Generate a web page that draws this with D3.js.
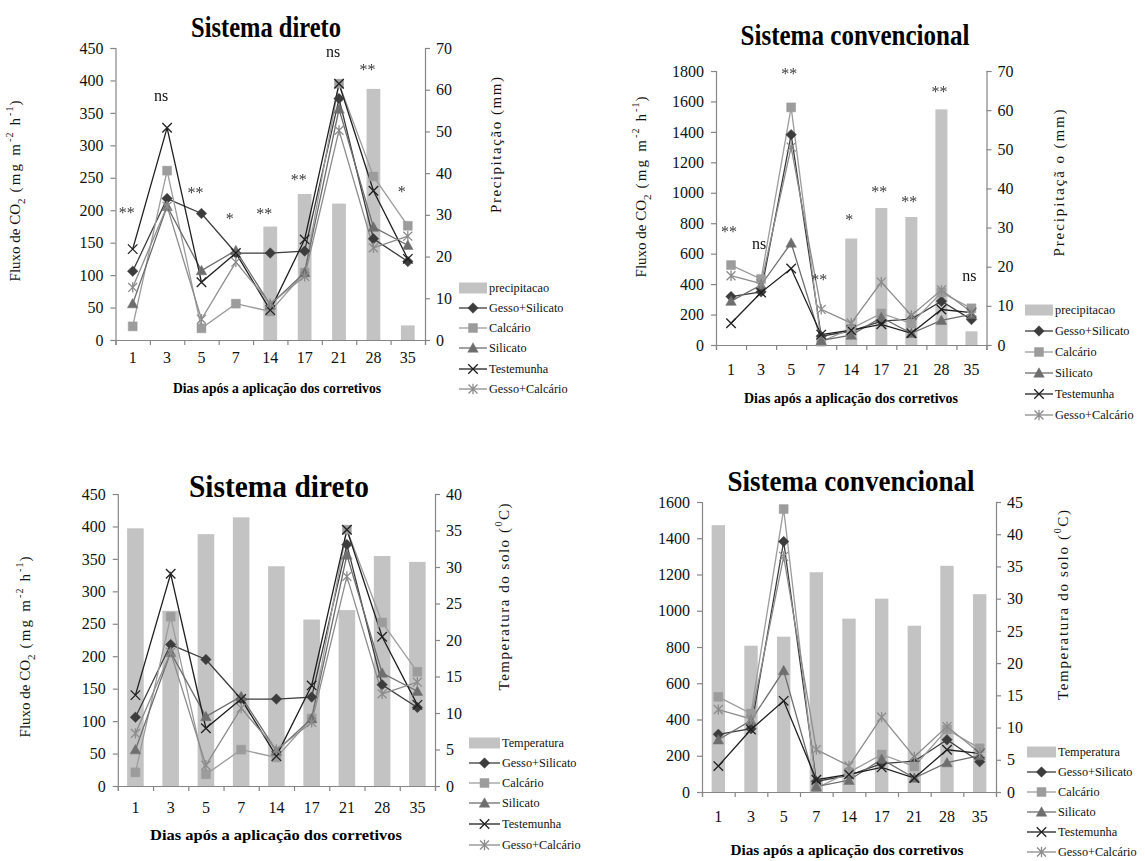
<!DOCTYPE html>
<html>
<head>
<meta charset="utf-8">
<script src="https://cdn.jsdelivr.net/npm/d3@7"></script>
<style>
  body { margin: 0; background: #fff; }
  svg text { font-family: "Liberation Serif", "Times New Roman", serif !important; }
  .sig { filter: grayscale(100%); }
</style>
</head>
<body>
<svg id="chart" width="1145" height="861"></svg>
<script>
// dias após a aplicação dos corretivos
const dias = ['1', '3', '5', '7', '14', '17', '21', '28', '35'];
const seriesNames = ['Gesso+Silicato', 'Calcário', 'Silicato', 'Testemunha', 'Gesso+Calcário'];

// Sistema direto - fluxo de CO2 (mg m-2 h-1)
const diretoGessoSilicato = [106, 218, 195, 134, 134, 137, 372, 156, 121];
const diretoCalcario = [21, 261, 18, 56, 44, 104, 395, 252, 176];
const diretoSilicato = [56, 206, 107, 138, 54, 104, 356, 174, 146];
const diretoTestemunha = [140, 327, 89, 134, 46, 155, 395, 230, 125];
const diretoGessoCalcario = [81, 206, 32, 120, 56, 98, 323, 142, 160];

// Sistema convencional - fluxo de CO2 (mg m-2 h-1)
const convGessoSilicato = [318, 349, 1382, 58, 92, 157, 170, 288, 167];
const convCalcario = [525, 433, 1561, 22, 108, 207, 141, 345, 241];
const convSilicato = [288, 394, 670, 30, 65, 181, 77, 162, 201];
const convTestemunha = [143, 345, 503, 68, 97, 136, 77, 233, 213];
const convGessoCalcario = [455, 403, 1300, 234, 144, 413, 194, 361, 217];

// precipitação (mm) e temperatura do solo (oC)
const precipitacao = [0, 0, 0, 0, 27.2, 35, 32.7, 60.2, 3.5];
const tempDireto = [35.3, 24.0, 34.5, 36.8, 30.1, 22.8, 24.1, 31.5, 30.7];
const tempConv = [41.4, 22.7, 24.1, 34.1, 26.9, 30.0, 25.8, 35.1, 30.7];

// significância
const sigDireto = ['**', 'ns', '**', '*', '**', '**', 'ns', '**', '*'];
const sigDiretoY = [188, 368, 219, 179, 186, 239, 436, 408, 220];
const sigConv = ['**', 'ns', '**', '**', '*', '**', '**', '**', 'ns'];
const sigConvY = [709, 631, 1747, 394, 788, 972, 906, 1629, 420];

const barColor = '#c3c3c3';
const axisColor = '#868686';

// marker shapes (size = (2r)^2)
const symDiamond = { draw(c, s) { const r = Math.sqrt(s) / 2; c.moveTo(0, -r); c.lineTo(r, 0); c.lineTo(0, r); c.lineTo(-r, 0); c.closePath(); } };
const symSquare = { draw(c, s) { const r = Math.sqrt(s) / 2; c.rect(-r, -r, 2 * r, 2 * r); } };
const symTriangle = { draw(c, s) { const r = Math.sqrt(s) / 2; c.moveTo(0, -r); c.lineTo(r, r * 0.8); c.lineTo(-r, r * 0.8); c.closePath(); } };
const symX = { draw(c, s) { const r = Math.sqrt(s) / 2; c.moveTo(-r, -r); c.lineTo(r, r); c.moveTo(-r, r); c.lineTo(r, -r); } };
const symStar = { draw(c, s) { const r = Math.sqrt(s) / 2; c.moveTo(-r, -r); c.lineTo(r, r); c.moveTo(-r, r); c.lineTo(r, -r); c.moveTo(0, -r * 1.15); c.lineTo(0, r * 1.15); } };

const styles = [
  { color: '#3c3c3c', sym: symDiamond, size: 110, fill: true },
  { color: '#9c9c9c', sym: symSquare, size: 80, fill: true },
  { color: '#6e6e6e', sym: symTriangle, size: 110, fill: true },
  { color: '#1f1f1f', sym: symX, size: 90, fill: false },
  { color: '#8c8c8c', sym: symStar, size: 80, fill: false }
];

const svg = d3.select('#chart');

function squeeze(sel, k) {
  sel.each(function () {
    const len = this.getComputedTextLength();
    d3.select(this).attr('textLength', len * k).attr('lengthAdjust', 'spacingAndGlyphs');
  });
}

function rotTitle(g, x, cy, parts, len) {
  const t = g.append('text')
    .attr('transform', `translate(${x},${cy}) rotate(-90)`)
    .attr('text-anchor', 'middle')
    .attr('dominant-baseline', 'central')
    .attr('font-size', 15)
    .attr('fill', '#111');
  parts.forEach(p => {
    const ts = t.append('tspan').text(p[0]);
    if (p[1] === 'sub') ts.attr('baseline-shift', 'sub').attr('font-size', 11);
    if (p[1] === 'sup') ts.attr('baseline-shift', 'super').attr('font-size', 10);
    if (p[2]) ts.attr('letter-spacing', p[2]);
  });
  if (len) t.attr('textLength', len).attr('lengthAdjust', 'spacing');
  return t;
}

const fluxoTitle = [['Fluxo de CO'], ['2', 'sub'], ['  (mg m', null, 2.2], ['-2', 'sup', 1], [' h', null, 2.2], ['-1', 'sup', 1], [')']];

function drawPanel(p) {
  const g = svg.append('g');
  const x = d3.scaleBand().domain(dias).range([p.left, p.right]);
  const xEdge = d3.scaleLinear().domain([0, dias.length]).range([p.left, p.right]);
  const yL = d3.scaleLinear().domain([0, p.leftMax]).range([p.bottom, p.top]);
  const yR = d3.scaleLinear().domain([0, p.rightMax]).range([p.bottom, p.top]);

  // barras (eixo secundário)
  const bw = x.bandwidth() * p.barW;
  g.append('g').selectAll('rect').data(p.bars).join('rect')
    .attr('x', (d, i) => x(dias[i]) + (x.bandwidth() - bw) / 2)
    .attr('width', bw)
    .attr('y', d => yR(d))
    .attr('height', d => yR(0) - yR(d))
    .attr('fill', barColor);

  // eixos
  const axL = g.append('g').attr('transform', `translate(${p.left},0)`)
    .call(d3.axisLeft(yL).tickValues(d3.range(0, p.leftMax + 1, p.leftStep)).tickSize(5).tickPadding(7).tickFormat(d3.format('d')));
  const axR = g.append('g').attr('transform', `translate(${p.right},0)`)
    .call(d3.axisRight(yR).tickValues(d3.range(0, p.rightMax + 1, p.rightStep)).tickSize(5).tickPadding(6).tickFormat(d3.format('d')));
  const axB = g.append('g').attr('transform', `translate(0,${p.bottom})`)
    .call(d3.axisBottom(xEdge).tickValues(d3.range(dias.length + 1)).tickSize(5).tickFormat(''));
  const axBL = g.append('g').attr('transform', `translate(0,${p.bottom})`)
    .call(d3.axisBottom(x).tickSize(0).tickPadding(p.xPad));
  axBL.select('.domain').remove();
  [axL, axR, axB].forEach(a => {
    a.select('.domain').attr('stroke', axisColor).attr('stroke-width', 1.2);
    a.selectAll('.tick line').attr('stroke', axisColor).attr('stroke-width', 1.2);
  });
  [axL, axR, axBL].forEach(a => {
    a.selectAll('text').attr('font-size', p.tickFont).attr('fill', '#111');
  });

  // séries
  p.series.forEach((vals, si) => {
    const st = styles[si];
    const line = d3.line().x((d, i) => x(dias[i]) + x.bandwidth() / 2).y(d => yL(d));
    g.append('path').datum(vals).attr('d', line)
      .attr('fill', 'none').attr('stroke', st.color).attr('stroke-width', 1.3);
  });
  p.series.forEach((vals, si) => {
    const st = styles[si];
    g.append('g').selectAll('path').data(vals).join('path')
      .attr('transform', (d, i) => `translate(${x(dias[i]) + x.bandwidth() / 2},${yL(d)})`)
      .attr('d', d3.symbol().type(st.sym).size(st.size))
      .attr('fill', st.fill ? st.color : 'none')
      .attr('stroke', st.color)
      .attr('stroke-width', st.fill ? 0.5 : 1.3);
  });

  // significância
  if (p.sig) {
    g.append('g').attr('class', 'sig').selectAll('text').data(p.sig).join('text')
      .attr('x', (d, i) => x(dias[i]) + x.bandwidth() / 2 + p.sigDx)
      .attr('y', (d, i) => yL(p.sigY[i]))
      .attr('text-anchor', 'middle')
      .attr('font-size', 16)
      .attr('fill', d => d === 'ns' ? '#111' : '#3a3a3a')
      .text(d => d);
  }

  // título
  g.append('text')
    .attr('x', p.titleX).attr('y', p.titleY)
    .attr('text-anchor', 'middle')
    .attr('font-size', p.titleFont).attr('font-weight', 'bold').attr('fill', '#000')
    .attr('textLength', p.titleLen).attr('lengthAdjust', 'spacingAndGlyphs')
    .text(p.title);

  // título eixo x
  g.append('text')
    .attr('x', p.xTitleX).attr('y', p.xTitleY)
    .attr('text-anchor', 'middle')
    .attr('font-size', 15).attr('font-weight', 'bold').attr('fill', '#000')
    .attr('textLength', p.xTitleLen).attr('lengthAdjust', 'spacingAndGlyphs')
    .text('Dias após a aplicação dos corretivos');

  // títulos eixos y
  if (p.leftTitle) rotTitle(g, p.leftTitle[0], p.leftTitle[1], fluxoTitle, null);
  rotTitle(g, p.rightTitle[0], p.rightTitle[1], p.rightTitleParts, p.rightTitle[2]);

  // legenda
  const lg = g.append('g');
  const names = [p.barName].concat(seriesNames);
  names.forEach((n, i) => {
    const cy = p.legY[i];
    if (i === 0) {
      lg.append('rect').attr('x', p.legX).attr('y', cy - 5.5).attr('width', p.legW).attr('height', 11).attr('fill', barColor);
    } else {
      const st = styles[i - 1];
      lg.append('line').attr('x1', p.legX).attr('x2', p.legX + p.legW).attr('y1', cy).attr('y2', cy)
        .attr('stroke', st.color).attr('stroke-width', 1.3);
      lg.append('path').attr('transform', `translate(${p.legX + p.legW / 2},${cy})`)
        .attr('d', d3.symbol().type(st.sym).size(st.size))
        .attr('fill', st.fill ? st.color : 'none').attr('stroke', st.color)
        .attr('stroke-width', st.fill ? 0.5 : 1.3);
    }
    const t = lg.append('text').attr('x', p.legX + p.legW + 2).attr('y', cy)
      .attr('dy', '0.33em').attr('font-size', 13).attr('fill', '#111').text(n);
    squeeze(t, 0.945);
  });
}

const panels = [
  {
    left: 115.5, right: 425, top: 48, bottom: 340,
    leftMax: 450, leftStep: 50, rightMax: 70, rightStep: 10,
    bars: precipitacao, barW: 0.4, barName: 'precipitacao',
    series: [diretoGessoSilicato, diretoCalcario, diretoSilicato, diretoTestemunha, diretoGessoCalcario],
    sig: sigDireto, sigY: sigDiretoY, sigDx: -6,
    tickFont: 16, xPad: 12,
    title: 'Sistema direto', titleX: 266, titleY: 37, titleFont: 29, titleLen: 150,
    xTitleX: 277, xTitleY: 393, xTitleLen: 208,
    leftTitle: [15, 191],
    rightTitle: [496, 145, 136], rightTitleParts: [['Precipitação (mm)']],
    legX: 459, legW: 28, legY: [288, 308, 328, 348, 369, 389]
  },
  {
    left: 716, right: 986.5, top: 71, bottom: 345,
    leftMax: 1800, leftStep: 200, rightMax: 70, rightStep: 10,
    bars: precipitacao, barW: 0.4, barName: 'precipitacao',
    series: [convGessoSilicato, convCalcario, convSilicato, convTestemunha, convGessoCalcario],
    sig: sigConv, sigY: sigConvY, sigDx: -2,
    tickFont: 16, xPad: 19,
    title: 'Sistema convencional', titleX: 855, titleY: 45, titleFont: 30, titleLen: 229,
    xTitleX: 851, xTitleY: 403, xTitleLen: 214,
    leftTitle: [641, 187],
    rightTitle: [1059, 183, 147], rightTitleParts: [['Precipitaçã o (mm)']],
    legX: 1025, legW: 28, legY: [310, 331, 352, 373, 394, 415]
  },
  {
    left: 117.8, right: 435, top: 494, bottom: 786,
    leftMax: 450, leftStep: 50, rightMax: 40, rightStep: 5,
    bars: tempDireto, barW: 0.47, barName: 'Temperatura',
    series: [diretoGessoSilicato, diretoCalcario, diretoSilicato, diretoTestemunha, diretoGessoCalcario],
    sig: null,
    tickFont: 16, xPad: 16,
    title: 'Sistema direto', titleX: 279, titleY: 497, titleFont: 32, titleLen: 180,
    xTitleX: 276, xTitleY: 840, xTitleLen: 252,
    leftTitle: [25, 647],
    rightTitle: [504, 597, 187], rightTitleParts: [['Temperatura  do solo ('], ['0', 'sup'], ['C)']],
    legX: 469, legW: 31, legY: [743, 763, 783, 803, 824, 845]
  },
  {
    left: 702, right: 996, top: 502, bottom: 792,
    leftMax: 1600, leftStep: 200, rightMax: 45, rightStep: 5,
    bars: tempConv, barW: 0.41, barName: 'Temperatura',
    series: [convGessoSilicato, convCalcario, convSilicato, convTestemunha, convGessoCalcario],
    sig: null,
    tickFont: 16, xPad: 19,
    title: 'Sistema convencional', titleX: 851, titleY: 491, titleFont: 29, titleLen: 247,
    xTitleX: 847, xTitleY: 855, xTitleLen: 233,
    leftTitle: null,
    rightTitle: [1063, 605, 190], rightTitleParts: [['Temperatura do solo ('], ['0', 'sup'], ['C)']],
    legX: 1027, legW: 29, legY: [752, 772, 792, 812, 832, 852]
  }
];

panels.forEach(drawPanel);
</script>
</body>
</html>
